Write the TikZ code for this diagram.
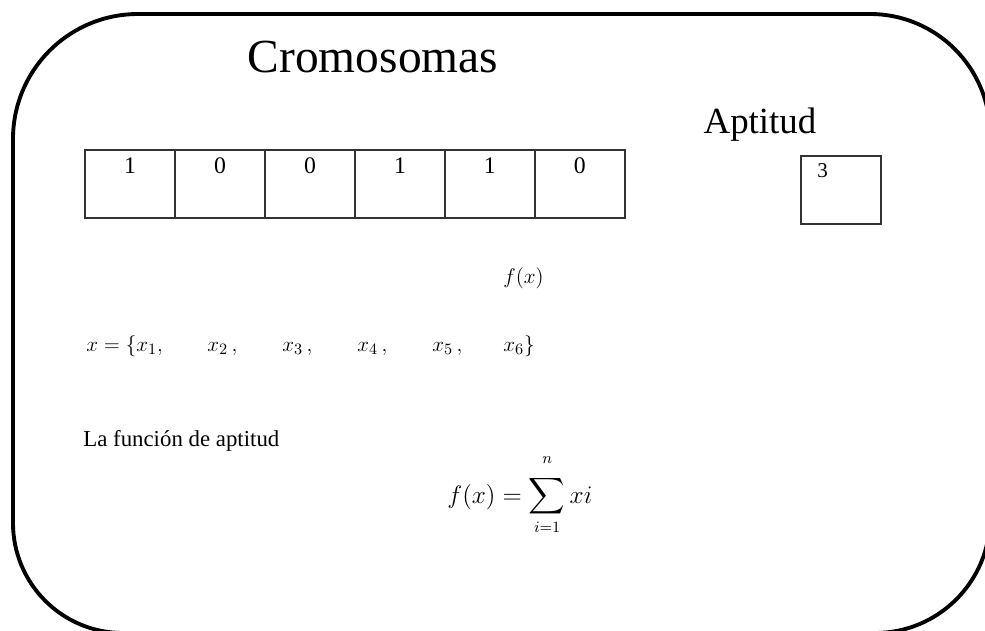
\documentclass[tikz,border=0pt]{standalone}
\usepackage{amsmath}
\usepackage{fontspec}
\setmainfont{Liberation Serif}
\usetikzlibrary{positioning}

\begin{document}
\begin{tikzpicture}[
  x=0.02cm, y=-0.02cm,
  frame/.style={draw, line width=2.2pt},
  cell/.style={draw=black!80, line width=0.7pt, minimum width=1.8cm, minimum height=1.36cm,
               inner sep=0pt, outer sep=0pt},
  bit/.style={anchor=base, inner sep=0pt, font=\fontsize{13.5}{15}\selectfont},
  title/.style={anchor=base, inner sep=0pt, font=\fontsize{27}{30}\selectfont},
  eq/.style={anchor=base west, inner sep=0pt, font=\fontsize{13}{15}\selectfont}
]
  \useasboundingbox (0,0) rectangle (985,630);

  % outer rounded frame
  \draw[frame] (13,139) arc[start angle=180, end angle=270, radius=125] -- (870,14)
    arc[start angle=270, end angle=360, radius=120] -- (990,518)
    arc[start angle=0, end angle=90, radius=115] -- (123,633)
    arc[start angle=90, end angle=180, radius=110] -- cycle;

  \node[title] (crom) at (373,72) {Cromosomas};
  \node[title, font=\fontsize{21}{24}\selectfont] (apt) at (760,133) {Aptitud};

  % chromosome cells
  \node[cell, anchor=north west] (c1) at (85,150) {};
  \foreach \i [remember=\i as \j (initially 1)] in {2,...,6}
    \node[cell, right=0pt of c\j] (c\i) {};
  \foreach \b [count=\i] in {1,0,0,1,1,0}
    \path (c\i.north) ++(0,23) node[bit] (b\i) {\b};

  % fitness value
  \node[cell, minimum width=1.6cm, anchor=north west] (fit) at (801,156) {};
  \path (fit.north west) ++(16,21) node[bit, anchor=base west, font=\fontsize{12}{14}\selectfont] (val) {3};

  \node[eq] (fx) at (503,283) {$f(x)$};

  \node[eq] (x1) at (86,351) {$x=\{x_1,$};
  \foreach \k/\px in {2/207,3/282,4/357,5/432}
    \node[eq] (x\k) at (\px,351) {$x_\k\,,$};
  \node[eq] (x6) at (503,351) {$x_6\}$};

  \node[eq] (lbl) at (83,446) {La función de aptitud};
  \node[eq, font=\fontsize{13.5}{16}\selectfont] (sum) at (447,503)
    {$\displaystyle f(x)=\sum_{i=1}^{\rule[-6pt]{0pt}{0pt}n} xi$};
\end{tikzpicture}
\end{document}
